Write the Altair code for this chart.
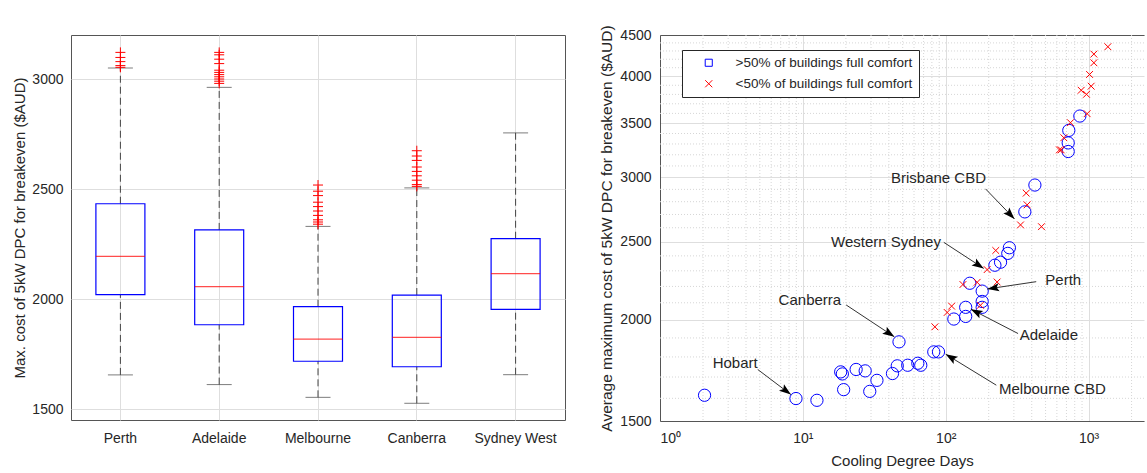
import math
import altair as alt
import pandas as pd

FONT = "Liberation Sans"
TXT = "#262626"
GRID = "#dedede"
MINOR = "#d6d6d6"
EDGE = "#555555"
BLUE = "#0000ff"
RED = "#ff0000"

# ---------------- left panel data (box plot) ----------------
cities = ["Perth", "Adelaide", "Melbourne", "Canberra", "Sydney West"]
q1 = [2020, 1883, 1717, 1692, 1953]
medians = [2194, 2056, 1818, 1826, 2115]
q3 = [2433, 2314, 1965, 2018, 2274]
whisker_low = [1655, 1611, 1553, 1526, 1656]
whisker_high = [3050, 2962, 2330, 2505, 2755]
outliers_perth = [3053, 3061, 3079, 3098, 3121]
outliers_adelaide = [2980, 2990, 3000, 3010, 3020, 3030, 3040, 3070, 3090, 3110, 3121]
outliers_melbourne = [2340, 2350, 2360, 2380, 2400, 2420, 2440, 2470, 2490, 2518]
outliers_canberra = [2512, 2520, 2540, 2560, 2580, 2600, 2630, 2650, 2674]
outliers_sydney_west = []
left_ticks = [1500, 2000, 2500, 3000]

# ---------------- right panel data (scatter) ----------------
blue_cdd = [2.05, 8.95, 12.55, 18.4, 18.9, 19.3, 23.6, 27.3, 29.4, 33.0, 42.4, 45.8, 47.1,
            54.2, 63.8, 66.9, 82.5, 89, 114, 138, 138, 147.5, 180, 180, 180, 221, 242, 272,
            279, 358, 421, 720, 720, 727, 869]
blue_cost = [1614, 1599, 1591, 1725, 1715, 1640, 1737, 1730, 1632, 1684, 1717, 1755, 1879,
             1758, 1768, 1758, 1826, 1826, 2005, 2020, 2073, 2220, 2171, 2108, 2073, 2337,
             2357, 2417, 2456, 2720, 2936, 3230, 3310, 3430, 3573]
red_cdd = [84, 102.4, 110, 132, 166, 175, 195, 224, 229, 334, 366, 371.5, 468, 625, 643, 671,
           747, 977, 888, 967, 1043, 1016, 1089, 1089, 1365]
red_cost = [1961, 2043, 2080, 2212, 2226, 2085, 2308, 2437, 2228, 2621, 2869, 2775, 2608,
            3245, 3245, 3359, 3506, 3597, 3845, 3801, 3890, 4022, 4158, 4262, 4352]
groups = [">50% of buildings full comfort", "<50% of buildings full comfort"]

ann_labels = ["Hobart", "Canberra", "Brisbane CBD", "Western Sydney", "Perth", "Adelaide",
              "Melbourne CBD"]
ann_text_x = [3.36, 11.2, 89, 38.2, 665, 527, 558]
ann_text_y = [1771, 2116, 2994, 2494, 2240, 1915, 1645]
ann_start_x = [4.83, 20.1, 190, 97, 430, 321, 226]
ann_start_y = [1737, 2087, 2904, 2494, 2230, 1924, 1661]
ann_end_x = [8.25, 43.7, 303, 184.5, 195.5, 150, 100]
ann_end_y = [1617, 1906, 2666, 2316, 2184, 2062, 1814]

x_major = [1, 10, 100, 1000]
x_minor = [m * d for d in [1, 10, 100] for m in range(2, 10)] + [2000]
y_major = [1500, 2000, 2500, 3000, 3500, 4000, 4500]
y_minor = [v for v in range(1600, 4500, 100) if v % 500 != 0]

# ---------------- layout ----------------
WL, HL = 494, 385
WR, HR = 484, 386
XMAX = 10 ** 3.388
YMIN, YMAX = 1500, 4500

# ================= left chart =================
box_df = pd.DataFrame({"city": cities, "q1": q1, "med": medians, "q3": q3,
                       "lo": whisker_low, "hi": whisker_high})
out_rows = []
for c, vals in zip(cities, [outliers_perth, outliers_adelaide, outliers_melbourne,
                            outliers_canberra, outliers_sydney_west]):
    for v in vals:
        out_rows.append({"city": c, "val": v})
out_df = pd.DataFrame(out_rows)

xl_scale = alt.Scale(domain=cities, paddingInner=0, paddingOuter=0)
yl_scale = alt.Scale(domain=[1450, 3200], nice=False, zero=False)
xl_axis = alt.Axis(title=None, labelAngle=0, grid=True, gridColor=GRID, ticks=False,
                   domain=False, labelPadding=11)
yl_axis = alt.Axis(title="Max. cost of 5kW DPC for breakeven ($AUD)", values=left_ticks,
                   format="d", grid=True, gridColor=GRID, ticks=False, domain=False,
                   labelPadding=8, titlePadding=4)

def XL():
    return alt.X("city:N", sort=cities, scale=xl_scale, axis=xl_axis)

lb = alt.Chart(box_df)
whisk_up = lb.mark_rule(color="#444444", strokeDash=[7, 4], strokeWidth=1).encode(
    x=XL(), y=alt.Y("q3:Q", scale=yl_scale, axis=yl_axis), y2="hi:Q")
whisk_dn = lb.mark_rule(color="#444444", strokeDash=[7, 4], strokeWidth=1).encode(
    x=XL(), y=alt.Y("lo:Q", scale=yl_scale, axis=yl_axis), y2="q1:Q")
cap_hi = lb.mark_tick(color="#444444", size=25, thickness=1).encode(
    x=XL(), y=alt.Y("hi:Q", scale=yl_scale, axis=yl_axis))
cap_lo = lb.mark_tick(color="#444444", size=25, thickness=1).encode(
    x=XL(), y=alt.Y("lo:Q", scale=yl_scale, axis=yl_axis))
boxes = lb.mark_bar(fillOpacity=0, stroke=BLUE, strokeWidth=1.2, width=49).encode(
    x=XL(), y=alt.Y("q1:Q", scale=yl_scale, axis=yl_axis), y2="q3:Q")
meds = lb.mark_tick(color=RED, size=49, thickness=1.2).encode(
    x=XL(), y=alt.Y("med:Q", scale=yl_scale, axis=yl_axis))
outs = alt.Chart(out_df).mark_point(shape="M-1,0L1,0M0,-1L0,1", size=100, filled=False,
                                    stroke=RED, strokeWidth=1, opacity=1).encode(
    x=XL(), y=alt.Y("val:Q", scale=yl_scale, axis=yl_axis))

left = alt.layer(whisk_up, whisk_dn, cap_hi, cap_lo, boxes, meds, outs).properties(
    width=WL, height=HL, view=alt.ViewBackground(stroke=EDGE, strokeWidth=1))

# ================= right chart =================
xr_scale = alt.Scale(type="log", domain=[1, XMAX], nice=False)
yr_scale = alt.Scale(type="log", domain=[YMIN, YMAX], nice=False)
xr_axis = alt.Axis(title="Cooling Degree Days", values=x_major, grid=True, gridColor=GRID,
                   ticks=False, domainColor=EDGE, labelPadding=10, titlePadding=8,
                   labelExpr="'10' + ['\u2070','\u00b9','\u00b2','\u00b3','\u2074'][round(log(datum.value)/LN10)]")
xr_top = alt.Axis(orient="top", title=None, labels=False, ticks=False, grid=False,
                  domainColor=EDGE)
yr_axis = alt.Axis(title="Average maximum cost of 5kW DPC for breakeven ($AUD)",
                   values=y_major, format="d", grid=True, gridColor=GRID, ticks=False,
                   domainColor=EDGE, labelPadding=9, titlePadding=5, titleFontSize=15.5)

minor_x = alt.Chart(pd.DataFrame({"v": x_minor})).mark_rule(
    color=MINOR, strokeDash=[1, 2], strokeWidth=1).encode(
    x=alt.X("v:Q", scale=xr_scale, axis=xr_top))
minor_y = alt.Chart(pd.DataFrame({"v": y_minor})).mark_rule(
    color=MINOR, strokeDash=[1, 2], strokeWidth=1).encode(
    y=alt.Y("v:Q", scale=yr_scale, axis=None))

blue_df = pd.DataFrame({"cdd": blue_cdd, "cost": blue_cost})
red_df = pd.DataFrame({"cdd": red_cdd, "cost": red_cost})

blue_pts = alt.Chart(blue_df).mark_point(shape="circle", size=150, filled=False,
                                         stroke=BLUE, strokeWidth=1, opacity=1).encode(
    x=alt.X("cdd:Q", scale=xr_scale, axis=xr_axis),
    y=alt.Y("cost:Q", scale=yr_scale, axis=yr_axis))
XPATH = "M-1,-1L1,1M-1,1L1,-1"
red_pts = alt.Chart(red_df).mark_point(shape=XPATH, size=46, filled=False, stroke=RED,
                                       strokeWidth=1, opacity=1).encode(
    x=alt.X("cdd:Q", scale=xr_scale, axis=None),
    y=alt.Y("cost:Q", scale=yr_scale, axis=None))

def px(v):
    return WR * math.log10(v) / math.log10(XMAX)

def py(v):
    return HR * (1 - math.log(v / YMIN) / math.log(YMAX / YMIN))

angles = []
for sx, sy, ex, ey in zip(ann_start_x, ann_start_y, ann_end_x, ann_end_y):
    dx = px(ex) - px(sx)
    dy = py(ey) - py(sy)
    angles.append(math.degrees(math.atan2(dx, -dy)) % 360)

ann_df = pd.DataFrame({"label": ann_labels, "tx": ann_text_x, "ty": ann_text_y,
                       "sx": ann_start_x, "sy": ann_start_y, "ex": ann_end_x,
                       "ey": ann_end_y, "ang": angles})
ann_text = alt.Chart(ann_df).mark_text(fontSize=15, color=TXT, align="center",
                                       baseline="middle").encode(
    x=alt.X("tx:Q", scale=xr_scale, axis=None),
    y=alt.Y("ty:Q", scale=yr_scale, axis=None), text="label:N")
ann_line = alt.Chart(ann_df).mark_rule(color="#333333", strokeWidth=1).encode(
    x=alt.X("sx:Q", scale=xr_scale, axis=None),
    y=alt.Y("sy:Q", scale=yr_scale, axis=None), x2="ex:Q", y2="ey:Q")
ann_head = alt.Chart(ann_df).mark_point(shape="M0,0L-0.7,2L0,1.6L0.7,2Z", size=140,
                                        filled=True, color="#000000", opacity=1).encode(
    x=alt.X("ex:Q", scale=xr_scale, axis=None),
    y=alt.Y("ey:Q", scale=yr_scale, axis=None),
    angle=alt.Angle("ang:Q", scale=None))

# legend box: its position is measured from the first panel's plot origin
leg_df = pd.DataFrame({"group": groups, "cdd": [1, 1], "cost": [YMIN, YMIN]})
legend = alt.Legend(title=None, orient="none", legendX=611, legendY=15, fillColor="white",
                    strokeColor=TXT, padding=6, symbolOffset=14, labelOffset=20,
                    labelFontSize=13.5, labelLimit=400, rowPadding=6, symbolSize=50,
                    symbolStrokeWidth=1, labelColor=TXT)
leg_layer = alt.Chart(leg_df).transform_filter("false").mark_point(
    filled=False, opacity=1).encode(
    x=alt.X("cdd:Q", scale=xr_scale, axis=None),
    y=alt.Y("cost:Q", scale=yr_scale, axis=None),
    shape=alt.Shape("group:N", scale=alt.Scale(domain=groups, range=["square", XPATH]),
                    legend=legend),
    color=alt.Color("group:N", scale=alt.Scale(domain=groups, range=[BLUE, RED]),
                    legend=legend))

right = alt.layer(minor_x, minor_y, blue_pts, red_pts, ann_line, ann_head, ann_text,
                  leg_layer).resolve_axis(x="independent", y="independent").properties(
    width=WR, height=HR, view=alt.ViewBackground(stroke="transparent"))

chart = alt.hconcat(left, right, spacing=33).properties(
    padding={"left": 12, "top": 24, "right": 0, "bottom": 0}
).configure_view(stroke="transparent").configure(font=FONT).configure_axis(
    labelFont=FONT, titleFont=FONT, labelColor=TXT, titleColor=TXT, labelFontSize=14,
    titleFontSize=15, titleFontWeight="normal"
).configure_legend(labelFont=FONT)

chart.save("out.html", embed_options={"renderer": "svg", "actions": False})
